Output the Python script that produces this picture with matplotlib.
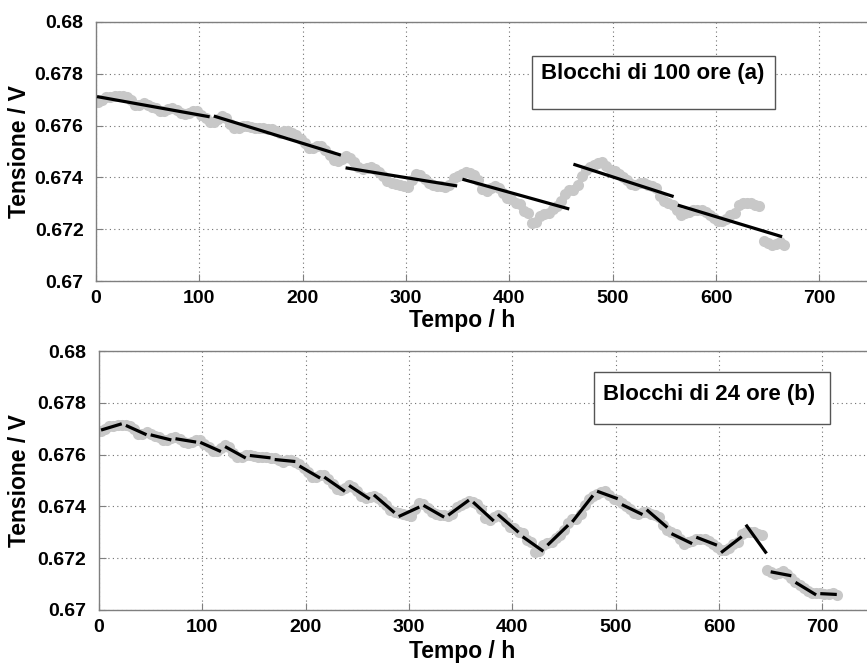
import numpy as np
import matplotlib
matplotlib.use("Agg")
import matplotlib.pyplot as plt
from matplotlib.patches import Rectangle
from matplotlib.ticker import FuncFormatter

plt.rcParams['font.family'] = ['Liberation Sans', 'DejaVu Sans']
plt.rcParams['font.weight'] = 'bold'

# ---- measured voltage (grey dots) ----
time_h = [2, 6, 10, 14, 18, 22, 26, 30, 34, 38, 42, 46, 50, 54, 58, 62, 66, 70, 74, 78,
          82, 86, 90, 94, 98, 102, 106, 110, 114, 118, 122, 126, 130, 134, 138, 142, 146, 150, 154, 158,
          162, 166, 170, 174, 178, 182, 186, 190, 194, 198, 202, 206, 210, 214, 218, 222, 226, 230, 234, 238,
          242, 246, 250, 254, 258, 262, 266, 270, 274, 278, 282, 286, 290, 294, 298, 302, 306, 310, 314, 318,
          322, 326, 330, 334, 338, 342, 346, 350, 354, 358, 362, 366, 370, 374, 378, 382, 386, 390, 394, 398,
          402, 406, 410, 414, 418, 422, 426, 430, 434, 438, 442, 446, 450, 454, 458, 462, 466, 470, 474, 478,
          482, 486, 490, 494, 498, 502, 506, 510, 514, 518, 522, 526, 530, 534, 538, 542, 546, 550, 554, 558,
          562, 566, 570, 574, 578, 582, 586, 590, 594, 598, 602, 606, 610, 614, 618, 622, 626, 630, 634, 638,
          642, 646, 650, 654, 658, 662, 666, 670, 674, 678, 682, 686, 690, 694, 698, 702, 706, 710, 714]
voltage = [0.67690, 0.67700, 0.67710, 0.67712, 0.67714, 0.67715, 0.67714, 0.67710, 0.67700, 0.67678,
           0.67680, 0.67686, 0.67680, 0.67673, 0.67668, 0.67656, 0.67656, 0.67665, 0.67668, 0.67660,
           0.67650, 0.67645, 0.67648, 0.67658, 0.67655, 0.67640, 0.67630, 0.67615, 0.67612, 0.67625,
           0.67636, 0.67630, 0.67605, 0.67590, 0.67592, 0.67600, 0.67598, 0.67594, 0.67592, 0.67590,
           0.67590, 0.67588, 0.67585, 0.67578, 0.67570, 0.67580, 0.67578, 0.67572, 0.67564, 0.67548,
           0.67532, 0.67515, 0.67515, 0.67522, 0.67520, 0.67505, 0.67485, 0.67468, 0.67465, 0.67470,
           0.67482, 0.67475, 0.67460, 0.67440, 0.67432, 0.67438, 0.67442, 0.67432, 0.67420, 0.67405,
           0.67385, 0.67377, 0.67374, 0.67370, 0.67365, 0.67362, 0.67390, 0.67414, 0.67410, 0.67395,
           0.67380, 0.67370, 0.67367, 0.67365, 0.67364, 0.67372, 0.67398, 0.67405, 0.67412, 0.67420,
           0.67418, 0.67410, 0.67390, 0.67355, 0.67348, 0.67360, 0.67368, 0.67360, 0.67340, 0.67322,
           0.67315, 0.67302, 0.67296, 0.67270, 0.67262, 0.67223, 0.67228, 0.67250, 0.67258, 0.67262,
           0.67278, 0.67290, 0.67310, 0.67335, 0.67352, 0.67350, 0.67370, 0.67405, 0.67430, 0.67440,
           0.67448, 0.67456, 0.67460, 0.67445, 0.67430, 0.67426, 0.67412, 0.67400, 0.67390, 0.67375,
           0.67372, 0.67378, 0.67380, 0.67372, 0.67365, 0.67360, 0.67330, 0.67310, 0.67300, 0.67292,
           0.67275, 0.67256, 0.67262, 0.67268, 0.67275, 0.67276, 0.67274, 0.67268, 0.67256, 0.67245,
           0.67230, 0.67232, 0.67240, 0.67255, 0.67262, 0.67295, 0.67302, 0.67300, 0.67302, 0.67295,
           0.67290, 0.67154, 0.67145, 0.67140, 0.67142, 0.67150, 0.67140, 0.67122, 0.67110, 0.67098,
           0.67085, 0.67072, 0.67066, 0.67064, 0.67064, 0.67060, 0.67062, 0.67064, 0.67058]

# ---- (a) 100-hour block linear fits: start/end of each segment ----
seg100_t0 = [1, 114, 241.5, 354.6, 462, 563]
seg100_t1 = [110, 237, 349.5, 458, 559, 664]
seg100_v0 = [0.67712, 0.67637, 0.67437, 0.67393, 0.67451, 0.67293]
seg100_v1 = [0.67634, 0.67486, 0.67367, 0.67278, 0.67326, 0.67171]
top_data_end_h = 666

# ---- (b) 24-hour blocks ----
block_h = 24

x_ticks = [0, 100, 200, 300, 400, 500, 600, 700]
y_ticks = [0.670, 0.672, 0.674, 0.676, 0.678, 0.680]
x_label = "Tempo / h"
y_label = "Tensione / V"
title_a = "Blocchi di 100 ore (a)"
title_b = "Blocchi di 24 ore (b)"

t = np.array(time_h)
v = np.array(voltage)

W, H = 867, 666
fig = plt.figure(figsize=(W / 100, H / 100), dpi=100)
ax1 = fig.add_axes([96 / W, 1 - 281 / H, 775 / W, 259 / H])
ax2 = fig.add_axes([99 / W, 1 - 610 / H, 775 / W, 259 / H])

grey = '#c8c8c8'
edge = '#7f7f7f'
fmt = FuncFormatter(lambda val, pos: ('%.3f' % val).rstrip('0'))

TICK_FS = 14
LABEL_FS = 16.5
BOX_FS = 16


def style(ax):
    ax.set_xlim(0, 750)
    ax.set_ylim(0.670, 0.680)
    ax.set_xticks(x_ticks)
    ax.set_yticks(y_ticks)
    ax.yaxis.set_major_formatter(fmt)
    ax.grid(True, linestyle=(0, (1, 3)), color='#707070', linewidth=0.8)
    for s in ax.spines.values():
        s.set_color(edge)
        s.set_linewidth(1.0)
    ax.tick_params(direction='in', length=5, color=edge, labelsize=TICK_FS,
                   labelcolor='black')
    ax.tick_params(axis='x', pad=6.5)
    ax.tick_params(axis='y', pad=9)
    for lab in ax.get_xticklabels() + ax.get_yticklabels():
        lab.set_fontweight('bold')
    ax.set_xlabel(x_label, fontsize=LABEL_FS, fontweight='bold')
    ax.set_ylabel(y_label, fontsize=LABEL_FS, fontweight='bold')
    ax.set_axisbelow(True)


# --- top panel ---
mask = t <= top_data_end_h
ax1.plot(t[mask], v[mask], 'o', color=grey, ms=8, mec='none', zorder=2)
for a0, a1, b0, b1 in zip(seg100_t0, seg100_t1, seg100_v0, seg100_v1):
    ax1.plot([a0, a1], [b0, b1], '-', color='black', lw=2.3, zorder=3,
             solid_capstyle='butt')
style(ax1)
ax1.xaxis.set_label_coords((462 - 96) / 775, -0.108)
ax1.yaxis.set_label_coords((31 - 96) / 775, 0.5)
ax1.add_patch(Rectangle((0.5626, 0.664), 0.876 - 0.5626, 0.8687 - 0.664,
                        transform=ax1.transAxes, facecolor='white',
                        edgecolor='#555555', lw=1.0, zorder=5))
ax1.text(0.574, 0.78, title_a, transform=ax1.transAxes, fontsize=BOX_FS,
         fontweight='bold', ha='left', va='baseline', zorder=6)

# --- bottom panel ---
ax2.plot(t, v, 'o', color=grey, ms=8, mec='none', zorder=2)
n_blocks = int(np.ceil(t.max() / block_h))
for b in range(n_blocks):
    sel = (t >= b * block_h) & (t < (b + 1) * block_h)
    if sel.sum() < 2:
        continue
    tb, vb = t[sel], v[sel]
    k, c = np.polyfit(tb, vb, 1)
    ax2.plot([tb.min(), tb.max()], [k * tb.min() + c, k * tb.max() + c], '-',
             color='black', lw=2.3, zorder=3, solid_capstyle='butt')
style(ax2)
ax2.xaxis.set_label_coords((462 - 99) / 775, -0.115)
ax2.yaxis.set_label_coords((31 - 99) / 775, 0.5)
ax2.add_patch(Rectangle((0.6387, 0.718), 0.943 - 0.6387, 0.919 - 0.718,
                        transform=ax2.transAxes, facecolor='white',
                        edgecolor='#555555', lw=1.0, zorder=5))
ax2.text(0.650, 0.811, title_b, transform=ax2.transAxes, fontsize=BOX_FS,
         fontweight='bold', ha='left', va='baseline', zorder=6)

fig.savefig('out.png', dpi=100)
